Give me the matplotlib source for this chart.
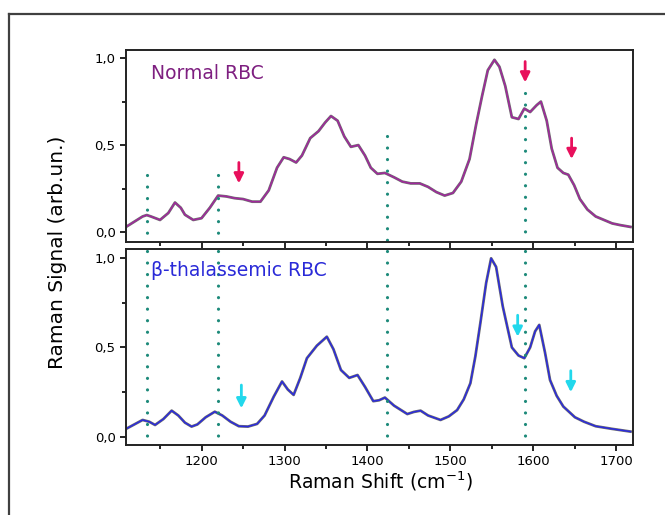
import numpy as np
import matplotlib.pyplot as plt
from matplotlib.lines import Line2D
from matplotlib.ticker import MultipleLocator, FuncFormatter

# Normal RBC spectrum
x_normal = [1109, 1119, 1129, 1134, 1139, 1150, 1160, 1168, 1175, 1180, 1190, 1200,
            1210, 1220, 1230, 1240, 1250, 1261, 1271, 1281, 1291, 1299, 1306, 1314,
            1321, 1331, 1341, 1349, 1356, 1364, 1372, 1380, 1389, 1397, 1404, 1412,
            1421, 1432, 1442, 1452, 1463, 1473, 1483, 1493, 1503, 1513, 1523, 1531,
            1538, 1545, 1553, 1559, 1566, 1574, 1582, 1589, 1596, 1604, 1609, 1616,
            1622, 1629, 1636, 1642, 1649, 1656, 1665, 1675, 1685, 1695, 1705, 1717]
y_normal = [0.03, 0.06, 0.09, 0.098, 0.09, 0.07, 0.11, 0.17, 0.14, 0.10, 0.07, 0.08,
            0.14, 0.21, 0.205, 0.195, 0.19, 0.175, 0.175, 0.24, 0.37, 0.43, 0.42, 0.40,
            0.44, 0.54, 0.58, 0.63, 0.667, 0.64, 0.55, 0.49, 0.50, 0.44, 0.37, 0.335,
            0.34, 0.315, 0.29, 0.28, 0.28, 0.26, 0.23, 0.21, 0.225, 0.29, 0.42, 0.62,
            0.78, 0.93, 0.99, 0.95, 0.84, 0.66, 0.65, 0.71, 0.69, 0.73, 0.75, 0.64,
            0.48, 0.37, 0.34, 0.33, 0.27, 0.19, 0.13, 0.09, 0.07, 0.05, 0.04, 0.03]

# beta-thalassemic RBC spectrum
x_thal = [1109, 1119, 1129, 1137, 1144, 1154, 1164, 1172, 1180, 1188, 1195, 1205,
          1216, 1225, 1235, 1245, 1256, 1267, 1276, 1287, 1297, 1304, 1311, 1319,
          1327, 1339, 1351, 1359, 1368, 1378, 1388, 1397, 1407, 1414, 1421, 1432,
          1448, 1456, 1464, 1473, 1488, 1498, 1508, 1516, 1524, 1530, 1536, 1543,
          1549, 1555, 1563, 1574, 1582, 1589, 1596, 1602, 1607, 1614, 1620, 1628,
          1636, 1650, 1661, 1675, 1695, 1717]
y_thal = [0.045, 0.07, 0.095, 0.085, 0.067, 0.10, 0.147, 0.12, 0.08, 0.058, 0.07, 0.11,
          0.141, 0.12, 0.085, 0.06, 0.058, 0.073, 0.12, 0.225, 0.31, 0.265, 0.235, 0.33,
          0.44, 0.51, 0.56, 0.49, 0.374, 0.33, 0.346, 0.28, 0.20, 0.205, 0.22, 0.175,
          0.128, 0.14, 0.147, 0.12, 0.095, 0.115, 0.15, 0.21, 0.30, 0.45, 0.635, 0.86,
          0.998, 0.95, 0.73, 0.50, 0.455, 0.44, 0.50, 0.59, 0.626, 0.47, 0.318, 0.23,
          0.17, 0.11, 0.085, 0.06, 0.045, 0.03]

# dotted marker lines: position and starting height in the top panel
mark_x = [1134, 1220, 1423, 1590]
mark_top = [0.33, 0.33, 0.55, 0.80]

# arrows: x, tail y, head y
arrows_normal = [(1245, 0.40, 0.28), (1590, 0.98, 0.86), (1646, 0.54, 0.42)]
arrows_thal = [(1248, 0.29, 0.16), (1581, 0.68, 0.56), (1645, 0.37, 0.25)]

fig = plt.figure(figsize=(6.65, 5.15), dpi=100)
ax1 = fig.add_axes([0.1895, 0.530, 0.7624, 0.3728])
ax2 = fig.add_axes([0.1895, 0.1359, 0.7624, 0.3806])

# outer frame (left and top edges)
fig.add_artist(Line2D([9 / 665, 9 / 665], [0, 1 - 14 / 515], color="#404040", lw=1.6))
fig.add_artist(Line2D([9 / 665, 1], [1 - 14 / 515, 1 - 14 / 515], color="#404040", lw=1.6))

teal = "#1d8a7a"
comma = FuncFormatter(lambda v, p: f"{v:.1f}".replace(".", ","))

for ax, xs, ys, col, ylim in [(ax1, x_normal, y_normal, "#a0289c", (-0.057, 1.046)),
                              (ax2, x_thal, y_thal, "#2b2bdc", (-0.045, 1.05))]:
    ax.plot(xs, ys, color="#404040", lw=2.0, alpha=0.75)
    ax.plot(xs, ys, color=col, lw=1.1)
    ax.set_xlim(1109, 1720)
    ax.set_ylim(*ylim)
    ax.xaxis.set_major_locator(MultipleLocator(100))
    ax.xaxis.set_minor_locator(MultipleLocator(50))
    ax.yaxis.set_major_locator(MultipleLocator(0.5))
    ax.yaxis.set_minor_locator(MultipleLocator(0.25))
    ax.yaxis.set_major_formatter(comma)
    ax.tick_params(which="major", direction="out", length=4, width=1.2, labelsize=9.5)
    ax.tick_params(which="minor", direction="out", length=3, width=1.2)
    for s in ax.spines.values():
        s.set_linewidth(1.4)
        s.set_color("#222222")

ax1.tick_params(labelbottom=False)

# dotted lines across both panels
dots = (0, (0.01, 3.6))
for xm, yt in zip(mark_x, mark_top):
    ax1.plot([xm, xm], [yt, -0.057], ls=dots, lw=2.3, color=teal,
             clip_on=False, dash_capstyle="round")
    ax2.plot([xm, xm], [1.04, -0.02], ls=dots, lw=2.3, color=teal,
             clip_on=False, dash_capstyle="round")

for xa, yt, yh in arrows_normal:
    ax1.annotate("", xy=(xa, yh), xytext=(xa, yt),
                 arrowprops=dict(arrowstyle="-|>", color="#e8105c", lw=2.0,
                                 mutation_scale=14, shrinkA=0, shrinkB=0))
for xa, yt, yh in arrows_thal:
    ax2.annotate("", xy=(xa, yh), xytext=(xa, yt),
                 arrowprops=dict(arrowstyle="-|>", color="#22d8ec", lw=2.0,
                                 mutation_scale=14, shrinkA=0, shrinkB=0))

ax1.text(0.05, 0.88, "Normal RBC", transform=ax1.transAxes, color="#7e1f80",
         fontsize=13.5, va="center")
ax2.text(0.05, 0.89, "β-thalassemic RBC", transform=ax2.transAxes, color="#2a2ad8",
         fontsize=13.5, va="center")

fig.text(0.087, 0.51, "Raman Signal (arb.un.)", rotation=90, fontsize=14.5,
         ha="center", va="center")
fig.text(0.572, 0.066, "Raman Shift (cm$^{-1}$)", fontsize=13.5, ha="center", va="center")

plt.savefig("out.png", dpi=100)
